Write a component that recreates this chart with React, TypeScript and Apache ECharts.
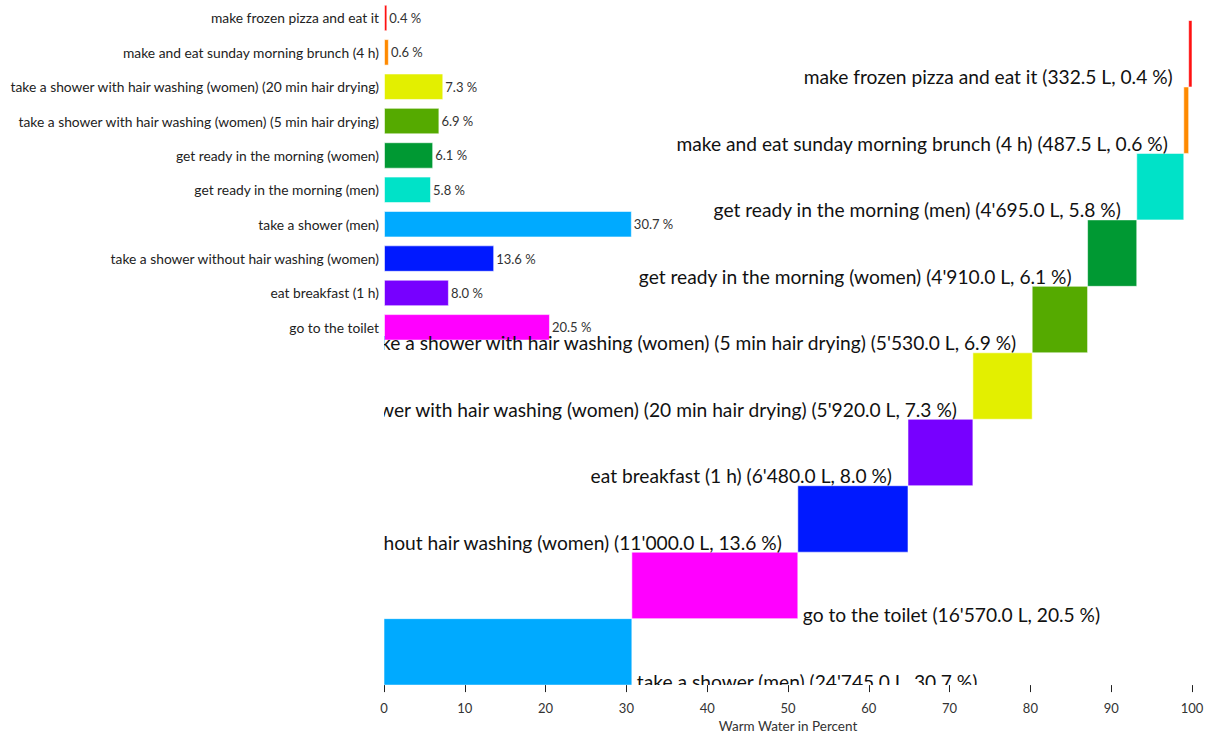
import React, { useEffect, useRef } from "react";
import * as echarts from "echarts";

// Top chart categories (top to bottom)
const topCategories = [
  "make frozen pizza and eat it",
  "make and eat sunday morning brunch (4 h)",
  "take a shower with hair washing (women) (20 min hair drying)",
  "take a shower with hair washing (women) (5 min hair drying)",
  "get ready in the morning (women)",
  "get ready in the morning (men)",
  "take a shower (men)",
  "take a shower without hair washing (women)",
  "eat breakfast (1 h)",
  "go to the toilet",
];

// Warm water per activity in litres (same order as topCategories)
const litres = [332.5, 487.5, 5920, 5530, 4910, 4695, 24745, 11000, 6480, 16570];

const colors = [
  "#ff1111",
  "#ff8a00",
  "#e3ef00",
  "#55aa00",
  "#009933",
  "#00e2c8",
  "#00aaff",
  "#0019ff",
  "#7700ff",
  "#ff00ff",
];

// Waterfall order (bottom to top), indices into topCategories
const waterfallOrder = [6, 9, 7, 8, 2, 3, 4, 5, 1, 0];

const FONT = "Lato, 'Open Sans', sans-serif";

function fmtLitres(v: number): string {
  const s = v.toFixed(1);
  const [ip, dp] = s.split(".");
  const withSep = ip.replace(/\B(?=(\d{3})+(?!\d))/g, "'");
  return withSep + "." + dp;
}

export default function App() {
  const ref = useRef<HTMLDivElement>(null);
  useEffect(() => {
    if (!ref.current) return;
    const chart = echarts.init(ref.current, null, { renderer: "svg" });
    const total = litres.reduce((a, b) => a + b, 0);
    const pct = litres.map((l) => (l / total) * 100);

    const wfData: any[] = [];
    let cum = 0;
    waterfallOrder.forEach((ci, i) => {
      const start = cum;
      const end = cum + pct[ci];
      cum = end;
      wfData.push({
        value: [start, end, i, ci],
        name: topCategories[ci],
      });
    });

    const option: any = {
      animation: false,
      grid: [
        { left: 384, right: 22, top: 0.8, height: 343.7, containLabel: false },
        { left: 384, right: 22, top: 20.5, height: 665.5, containLabel: false },
      ],
      xAxis: [
        { gridIndex: 0, type: "value", min: 0, max: 100, show: false },
        {
          gridIndex: 1,
          type: "value",
          min: 0,
          max: 100,
          interval: 10,
          axisLine: { show: false },
          axisTick: { show: true, length: 7, lineStyle: { color: "#222", width: 1 } },
          splitLine: { show: false },
          axisLabel: { margin: 16, color: "#333", fontSize: 13, fontFamily: FONT },
          name: "Warm Water in Percent",
          nameLocation: "middle",
          nameGap: 33,
          nameTextStyle: { color: "#333", fontSize: 13.5, fontFamily: FONT },
        },
      ],
      yAxis: [
        {
          gridIndex: 0,
          type: "category",
          inverse: true,
          data: topCategories,
          axisLine: { show: false },
          axisTick: { show: false },
          axisLabel: { margin: 5, color: "#222", fontSize: 13.8, fontFamily: FONT },
        },
        {
          gridIndex: 1,
          type: "category",
          data: waterfallOrder.map((ci) => topCategories[ci]),
          show: false,
        },
      ],
      series: [
        {
          type: "bar",
          xAxisIndex: 0,
          yAxisIndex: 0,
          barCategoryGap: "23%",
          data: pct.map((v, i) => ({
            value: v,
            itemStyle: { color: colors[i], borderColor: "rgba(255,255,255,0.55)", borderWidth: 1 },
          })),
          label: {
            show: true,
            position: "right",
            distance: 2,
            color: "#333",
            fontSize: 13,
            fontFamily: FONT,
            formatter: (p: any) => p.value.toFixed(1) + " %",
          },
          z: 2,
        },
        {
          type: "custom",
          xAxisIndex: 1,
          yAxisIndex: 1,
          clip: true,
          z: 3,
          data: wfData,
          encode: { x: [0, 1], y: 2 },
          renderItem: (params: any, api: any) => {
            const start = api.value(0);
            const end = api.value(1);
            const idx = api.value(2);
            const ci = api.value(3);
            const p0 = api.coord([start, idx]);
            const p1 = api.coord([end, idx]);
            const bandH = api.size([0, 1])[1];
            const top = p0[1] - bandH / 2;
            const bottom = p0[1] + bandH / 2;
            const right = start < 50;
            const label =
              topCategories[ci] +
              " (" +
              fmtLitres(litres[ci]) +
              " L, " +
              pct[ci].toFixed(1) +
              " %)";
            return {
              type: "group",
              children: [
                {
                  type: "rect",
                  shape: { x: p0[0], y: top, width: p1[0] - p0[0], height: bandH },
                  style: {
                    fill: colors[ci],
                    stroke: "rgba(255,255,255,0.55)",
                    lineWidth: 1,
                  },
                },
                {
                  type: "text",
                  x: right ? p1[0] + 5 : p0[0] - 16,
                  y: right ? bottom - 4 : bottom - 10,
                  style: {
                    text: label,
                    fill: "#111",
                    fontSize: 19.2,
                    fontFamily: FONT,
                    align: right ? "left" : "right",
                    verticalAlign: "middle",
                  },
                },
              ],
            };
          },
        },
      ],
    };
    chart.setOption(option);
    return () => chart.dispose();
  }, []);
  return <div ref={ref} style={{ width: 1214, height: 738, position: "absolute", left: 0, top: 0 }} />;
}
